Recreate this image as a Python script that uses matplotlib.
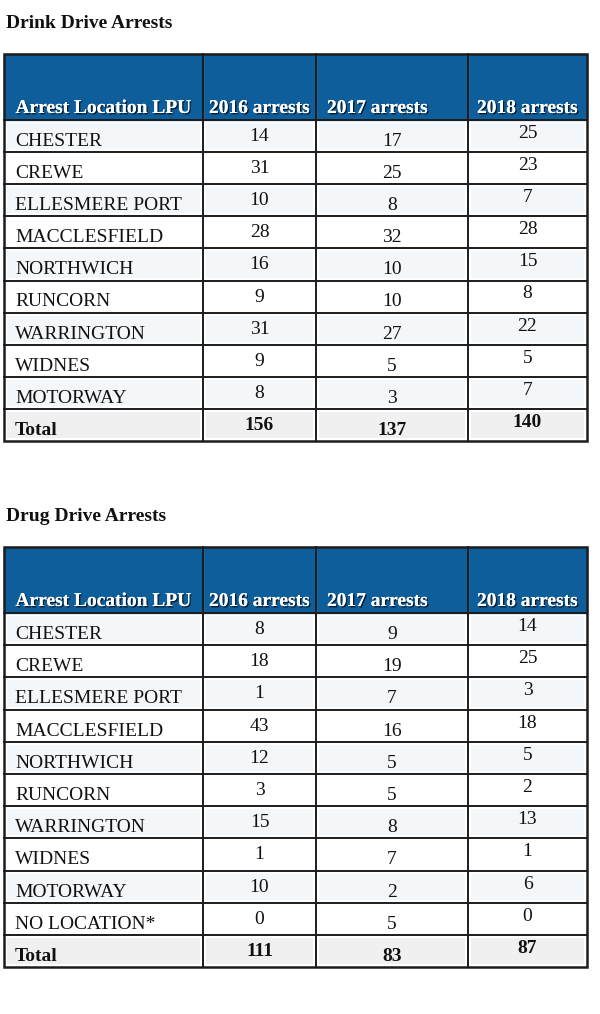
import matplotlib
matplotlib.use("Agg")
import matplotlib.pyplot as plt
import matplotlib.patheffects as pe
from matplotlib.patches import Rectangle

# data
headers = ["Arrest Location LPU", "2016 arrests", "2017 arrests", "2018 arrests"]

drink_title = "Drink Drive Arrests"
drink_locations = ["CHESTER", "CREWE", "ELLESMERE PORT", "MACCLESFIELD", "NORTHWICH",
                   "RUNCORN", "WARRINGTON", "WIDNES", "MOTORWAY"]
drink_2016 = [14, 31, 10, 28, 16, 9, 31, 9, 8]
drink_2017 = [17, 25, 8, 32, 10, 10, 27, 5, 3]
drink_2018 = [25, 23, 7, 28, 15, 8, 22, 5, 7]
drink_totals = [156, 137, 140]

drug_title = "Drug Drive Arrests"
drug_locations = ["CHESTER", "CREWE", "ELLESMERE PORT", "MACCLESFIELD", "NORTHWICH",
                  "RUNCORN", "WARRINGTON", "WIDNES", "MOTORWAY", "NO LOCATION*"]
drug_2016 = [8, 18, 1, 43, 12, 3, 15, 1, 10, 0]
drug_2017 = [9, 19, 7, 16, 5, 5, 8, 7, 2, 5]
drug_2018 = [14, 25, 3, 18, 5, 2, 13, 1, 6, 0]
drug_totals = [111, 83, 87]

# layout (pixels)
col_edges = [4, 203, 316, 468, 587]
header_blue = "#0f5e9c"
line_col = "#1c1c1c"
font = "Liberation Serif"
fs = 14

fig = plt.figure(figsize=(6, 10.14), dpi=100)
ax = fig.add_axes([0, 0, 1, 1])
ax.set_xlim(0, 600)
ax.set_ylim(1014, 0)
ax.axis("off")

shadow = [pe.withSimplePatchShadow(offset=(1, -1), shadow_rgbFace="black", alpha=0.7),
          pe.Normal()]


def draw_table(title, title_y, top, header_h, row_h, locations, cols, totals):
    ax.text(6, title_y, title, fontsize=fs, fontweight="bold", family=font,
            color="#111111", va="baseline", ha="left")
    hb = top + header_h
    # header
    for j in range(4):
        x0, x1 = col_edges[j], col_edges[j + 1]
        ax.add_patch(Rectangle((x0, top), x1 - x0, header_h, facecolor=header_blue,
                               edgecolor="#4f88bb", lw=1.0, zorder=1))
        if j == 2:
            tx, ha = x0 + 11, "left"
        else:
            tx, ha = (x0 + x1) / 2, "center"
        ax.text(tx, hb - 7, headers[j], fontsize=fs, fontweight="bold", family=font,
                color="white", ha=ha, va="baseline", path_effects=shadow, zorder=3)
    n = len(locations)
    offsets = [26, 21, 26, 18]
    for i in range(n + 1):
        y0 = hb + i * row_h
        is_total = i == n
        if is_total:
            bg = "#f0f0f0"
        elif i % 2 == 0:
            bg = "#f3f7fa"
        else:
            bg = "white"
        for j in range(4):
            x0, x1 = col_edges[j], col_edges[j + 1]
            ax.add_patch(Rectangle((x0 + 3, y0 + 3), x1 - x0 - 6, row_h - 6,
                                   facecolor=bg, edgecolor="none", zorder=1))
        if is_total:
            label, vals, weight = "Total", totals, "bold"
        else:
            label = locations[i]
            vals = [c[i] for c in cols]
            weight = "normal"
        ax.text(col_edges[0] + 11, y0 + offsets[0], label, fontsize=fs, family=font,
                fontweight=weight, color="#111111", ha="left", va="baseline", zorder=3)
        for j, v in enumerate(vals):
            cx = (col_edges[j + 1] + col_edges[j + 2]) / 2
            ax.text(cx, y0 + offsets[j + 1], str(v), fontsize=fs, family=font,
                    fontweight=weight, color="#111111", ha="center", va="baseline",
                    zorder=3)
    bottom = hb + (n + 1) * row_h
    # grid lines
    for i in range(n + 1):
        y = hb + i * row_h
        ax.plot([col_edges[0], col_edges[-1]], [y, y], color=line_col, lw=1.4, zorder=4)
    for x in col_edges[1:-1]:
        ax.plot([x, x], [top, bottom], color=line_col, lw=1.4, zorder=4)
    ax.add_patch(Rectangle((col_edges[0], top), col_edges[-1] - col_edges[0],
                           bottom - top, facecolor="none", edgecolor=line_col,
                           lw=1.8, zorder=5))


draw_table(drink_title, 28, 54, 66, 32.1, drink_locations,
           [drink_2016, drink_2017, drink_2018], drink_totals)
draw_table(drug_title, 521, 547, 66, 32.2, drug_locations,
           [drug_2016, drug_2017, drug_2018], drug_totals)

fig.savefig("out.png", dpi=100)
